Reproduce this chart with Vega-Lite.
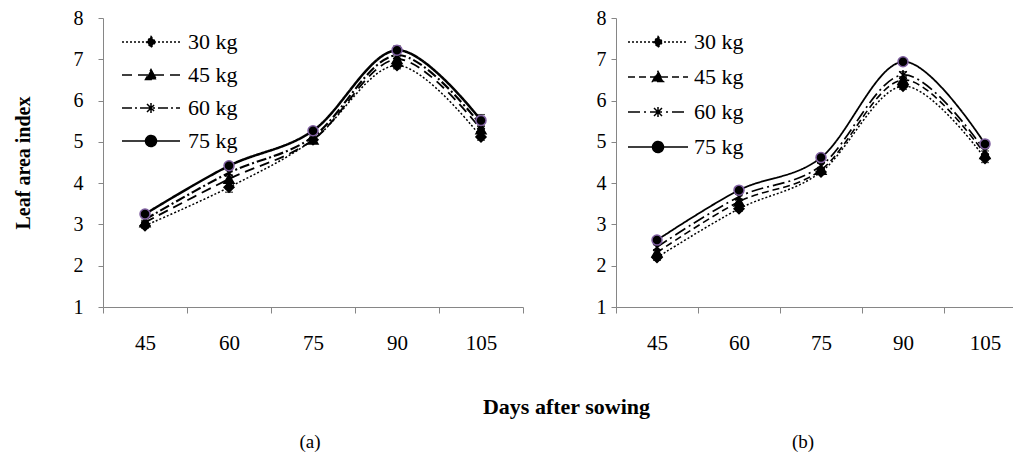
{
  "$schema": "https://vega.github.io/schema/vega-lite/v6.json",
  "padding": {"left": 13, "top": 8, "right": -13, "bottom": 0},
  "config": {
    "view": {"stroke": null},
    "font": "Liberation Serif",
    "style": {"guide-label": {"font": "Liberation Serif", "fontWeight": "normal"}, "guide-title": {"font": "Liberation Serif"}, "group-title": {"font": "Liberation Serif"}},
    "axis": {"domainColor": "#868686", "tickColor": "#868686", "grid": false, "labelFont": "Liberation Serif", "labelFontSize": 20, "labelFontWeight": "normal", "labelColor": "black", "titleFont": "Liberation Serif", "titleColor": "black", "titleFontWeight": "bold", "titleFontSize": 20},
    "legend": {"labelFont": "Liberation Serif", "labelFontWeight": "normal"}
  },
  "datasets": {
    "a": [
      {"day": 45, "kg": "30 kg", "dose": "30 kg", "lai": 2.97, "err": 0.06},
      {"day": 45, "kg": "45 kg", "dose": "45 kg", "lai": 3.05, "err": 0.05},
      {"day": 45, "kg": "60 kg", "dose": "60 kg", "lai": 3.12, "err": 0.05},
      {"day": 45, "kg": "75 kg", "dose": "75 kg", "lai": 3.25, "err": 0.05},
      {"day": 60, "kg": "30 kg", "dose": "30 kg", "lai": 3.9, "err": 0.12},
      {"day": 60, "kg": "45 kg", "dose": "45 kg", "lai": 4.1, "err": 0.1},
      {"day": 60, "kg": "60 kg", "dose": "60 kg", "lai": 4.25, "err": 0.08},
      {"day": 60, "kg": "75 kg", "dose": "75 kg", "lai": 4.42, "err": 0.06},
      {"day": 75, "kg": "30 kg", "dose": "30 kg", "lai": 5.05, "err": 0.06},
      {"day": 75, "kg": "45 kg", "dose": "45 kg", "lai": 5.05, "err": 0.06},
      {"day": 75, "kg": "60 kg", "dose": "60 kg", "lai": 5.12, "err": 0.05},
      {"day": 75, "kg": "75 kg", "dose": "75 kg", "lai": 5.27, "err": 0.05},
      {"day": 90, "kg": "30 kg", "dose": "30 kg", "lai": 6.85, "err": 0.08},
      {"day": 90, "kg": "45 kg", "dose": "45 kg", "lai": 7.0, "err": 0.08},
      {"day": 90, "kg": "60 kg", "dose": "60 kg", "lai": 7.1, "err": 0.08},
      {"day": 90, "kg": "75 kg", "dose": "75 kg", "lai": 7.22, "err": 0.1},
      {"day": 105, "kg": "30 kg", "dose": "30 kg", "lai": 5.12, "err": 0.08},
      {"day": 105, "kg": "45 kg", "dose": "45 kg", "lai": 5.3, "err": 0.08},
      {"day": 105, "kg": "60 kg", "dose": "60 kg", "lai": 5.4, "err": 0.1},
      {"day": 105, "kg": "75 kg", "dose": "75 kg", "lai": 5.52, "err": 0.14}
    ],
    "b": [
      {"day": 45, "kg": "30 kg", "dose": "30 kg", "lai": 2.2, "err": 0.07},
      {"day": 45, "kg": "45 kg", "dose": "45 kg", "lai": 2.32, "err": 0.06},
      {"day": 45, "kg": "60 kg", "dose": "60 kg", "lai": 2.45, "err": 0.06},
      {"day": 45, "kg": "75 kg", "dose": "75 kg", "lai": 2.62, "err": 0.05},
      {"day": 60, "kg": "30 kg", "dose": "30 kg", "lai": 3.38, "err": 0.06},
      {"day": 60, "kg": "45 kg", "dose": "45 kg", "lai": 3.55, "err": 0.06},
      {"day": 60, "kg": "60 kg", "dose": "60 kg", "lai": 3.67, "err": 0.06},
      {"day": 60, "kg": "75 kg", "dose": "75 kg", "lai": 3.83, "err": 0.05},
      {"day": 75, "kg": "30 kg", "dose": "30 kg", "lai": 4.27, "err": 0.06},
      {"day": 75, "kg": "45 kg", "dose": "45 kg", "lai": 4.32, "err": 0.06},
      {"day": 75, "kg": "60 kg", "dose": "60 kg", "lai": 4.42, "err": 0.06},
      {"day": 75, "kg": "75 kg", "dose": "75 kg", "lai": 4.62, "err": 0.05},
      {"day": 90, "kg": "30 kg", "dose": "30 kg", "lai": 6.35, "err": 0.08},
      {"day": 90, "kg": "45 kg", "dose": "45 kg", "lai": 6.5, "err": 0.08},
      {"day": 90, "kg": "60 kg", "dose": "60 kg", "lai": 6.62, "err": 0.08},
      {"day": 90, "kg": "75 kg", "dose": "75 kg", "lai": 6.94, "err": 0.06},
      {"day": 105, "kg": "30 kg", "dose": "30 kg", "lai": 4.6, "err": 0.1},
      {"day": 105, "kg": "45 kg", "dose": "45 kg", "lai": 4.7, "err": 0.08},
      {"day": 105, "kg": "60 kg", "dose": "60 kg", "lai": 4.78, "err": 0.08},
      {"day": 105, "kg": "75 kg", "dose": "75 kg", "lai": 4.95, "err": 0.06}
    ]
  },
  "spacing": 93,
  "bounds": "flush",
  "resolve": {
    "scale": {"strokeDash": "independent", "shape": "independent", "stroke": "independent", "size": "independent", "strokeWidth": "independent"},
    "legend": {"strokeDash": "independent"}
  },
  "hconcat": [
    {
      "width": 420,
      "height": 289,
      "data": {"name": "a"},
      "title": {"text": "(a)", "orient": "top", "frame": "group", "anchor": "middle", "offset": 0, "dy": 459, "dx": -3, "baseline": "alphabetic", "fontSize": 19, "fontWeight": "normal", "font": "Liberation Serif", "color": "black"},
      "encoding": {
        "x": {"field": "day", "type": "ordinal", "scale": {"type": "band", "paddingInner": 0, "paddingOuter": 0},
          "axis": {"title": "Days after sowing", "titleX": 463, "titleY": 106, "titleBaseline": "alphabetic", "titleFontSize": 22, "labelAngle": 0, "tickSize": 6, "labelPadding": 36, "labelBaseline": "alphabetic", "tickBand": "extent", "labelFont": "Liberation Serif", "labelFontSize": 21}},
        "y": {"field": "lai", "type": "quantitative", "scale": {"domain": [1, 8], "nice": false, "zero": false},
          "axis": {"values": [1, 2, 3, 4, 5, 6, 7, 8], "title": "Leaf area index", "titlePadding": 40, "tickSize": 5, "labelPadding": 15, "labelFont": "Liberation Serif", "labelFontSize": 20}}
      },
      "layer": [
        {
          "mark": {"type": "line", "interpolate": "cardinal", "color": "black"},
          "encoding": {
            "strokeDash": {"field": "kg", "type": "nominal", "scale": {"domain": ["30 kg", "45 kg", "60 kg", "75 kg"], "range": [[2, 2], [10, 6], [10, 3, 2, 3], [1, 0]]},
              "legend": {"orient": "none", "legendX": 37, "legendY": 13, "title": null, "symbolSize": 400, "labelFontSize": 22, "labelFont": "Liberation Serif", "labelColor": "black", "labelOffset": 26, "rowPadding": 11, "padding": 0, "symbolStrokeWidth": 1.5, "symbolStrokeColor": "black", "symbolFillColor": "black",
                "encode": {"symbols": {"update": {"shape": {"signal": "datum.value === '30 kg' ? 'M-2.9,0H2.9M0,-0.55L0.45,0L0,0.55L-0.45,0Z' : datum.value === '45 kg' ? 'M-2.9,0H2.9M0,-0.55L0.55,0.45L-0.55,0.45Z' : datum.value === '60 kg' ? 'M-2.9,0H2.9M-0.4,-0.4L0.4,0.4M-0.4,0.4L0.4,-0.4M0,-0.5V0.5' : 'M-2.9,0H2.9M0.55,0A0.55,0.55 0 1,1 -0.55,0A0.55,0.55 0 1,1 0.55,0Z'"}, "fill": {"value": "black"}, "stroke": {"value": "black"}, "strokeWidth": {"value": 1.5}, "opacity": {"value": 1}}}}}},
            "strokeWidth": {"field": "dose", "type": "nominal", "scale": {"range": [1.5, 2.5, 1.6, 2]}, "legend": null}
          }
        },
        {
          "mark": {"type": "errorbar", "color": "black", "thickness": 1.3, "ticks": {"size": 8, "thickness": 1.3}},
          "encoding": {"y": {"field": "lai", "type": "quantitative"}, "yError": {"field": "err"}, "detail": {"field": "dose"}}
        },
        {
          "mark": {"type": "point", "filled": true, "fill": "black", "opacity": 1, "strokeWidth": 1.5},
          "encoding": {
            "shape": {"field": "dose", "type": "nominal", "scale": {"range": ["diamond", "triangle-up", "M-0.75,-0.75L0.75,0.75M-0.75,0.75L0.75,-0.75M0,-1V1", "circle"]}, "legend": null},
            "stroke": {"field": "dose", "type": "nominal", "scale": {"range": ["black", "black", "black", "#7F5FA0"]}, "legend": null},
            "size": {"field": "dose", "type": "nominal", "scale": {"range": [100, 100, 100, 144]}, "legend": null}
          }
        }
      ]
    },
    {
      "width": 410,
      "height": 289,
      "data": {"name": "b"},
      "title": {"text": "(b)", "orient": "top", "frame": "group", "anchor": "middle", "offset": 0, "dy": 459, "dx": -18, "baseline": "alphabetic", "fontSize": 19, "fontWeight": "normal", "font": "Liberation Serif", "color": "black"},
      "encoding": {
        "x": {"field": "day", "type": "ordinal", "scale": {"type": "band", "paddingInner": 0, "paddingOuter": 0},
          "axis": {"title": null, "labelAngle": 0, "tickSize": 6, "labelPadding": 36, "labelBaseline": "alphabetic", "tickBand": "extent", "labelFont": "Liberation Serif", "labelFontSize": 21}},
        "y": {"field": "lai", "type": "quantitative", "scale": {"domain": [1, 8], "nice": false, "zero": false},
          "axis": {"values": [1, 2, 3, 4, 5, 6, 7, 8], "title": null, "tickSize": 5, "labelPadding": 5, "labelFont": "Liberation Serif", "labelFontSize": 20}}
      },
      "layer": [
        {
          "mark": {"type": "line", "interpolate": "cardinal", "color": "black"},
          "encoding": {
            "strokeDash": {"field": "kg", "type": "nominal", "scale": {"domain": ["30 kg", "45 kg", "60 kg", "75 kg"], "range": [[2, 2], [7, 4], [12, 4, 2, 4], [1, 0]]},
              "legend": {"orient": "none", "legendX": 31, "legendY": 13, "title": null, "symbolSize": 400, "labelFontSize": 22, "labelFont": "Liberation Serif", "labelColor": "black", "labelOffset": 25, "rowPadding": 13, "padding": 0, "symbolStrokeWidth": 1.5, "symbolStrokeColor": "black", "symbolFillColor": "black",
                "encode": {"symbols": {"update": {"shape": {"signal": "datum.value === '30 kg' ? 'M-3,0H3M0,-0.55L0.45,0L0,0.55L-0.45,0Z' : datum.value === '45 kg' ? 'M-3,0H3M0,-0.55L0.55,0.45L-0.55,0.45Z' : datum.value === '60 kg' ? 'M-3,0H3M-0.4,-0.4L0.4,0.4M-0.4,0.4L0.4,-0.4M0,-0.5V0.5' : 'M-3,0H3M0.55,0A0.55,0.55 0 1,1 -0.55,0A0.55,0.55 0 1,1 0.55,0Z'"}, "fill": {"value": "black"}, "stroke": {"value": "black"}, "strokeWidth": {"value": 1.5}, "opacity": {"value": 1}}}}}},
            "strokeWidth": {"field": "dose", "type": "nominal", "scale": {"range": [1.5, 1.8, 1.6, 2]}, "legend": null}
          }
        },
        {
          "mark": {"type": "errorbar", "color": "black", "thickness": 1.3, "ticks": {"size": 8, "thickness": 1.3}},
          "encoding": {"y": {"field": "lai", "type": "quantitative"}, "yError": {"field": "err"}, "detail": {"field": "dose"}}
        },
        {
          "mark": {"type": "point", "filled": true, "fill": "black", "opacity": 1, "strokeWidth": 1.5},
          "encoding": {
            "shape": {"field": "dose", "type": "nominal", "scale": {"range": ["diamond", "triangle-up", "M-0.75,-0.75L0.75,0.75M-0.75,0.75L0.75,-0.75M0,-1V1", "circle"]}, "legend": null},
            "stroke": {"field": "dose", "type": "nominal", "scale": {"range": ["black", "black", "black", "#7F5FA0"]}, "legend": null},
            "size": {"field": "dose", "type": "nominal", "scale": {"range": [100, 100, 100, 144]}, "legend": null}
          }
        }
      ]
    }
  ]
}
